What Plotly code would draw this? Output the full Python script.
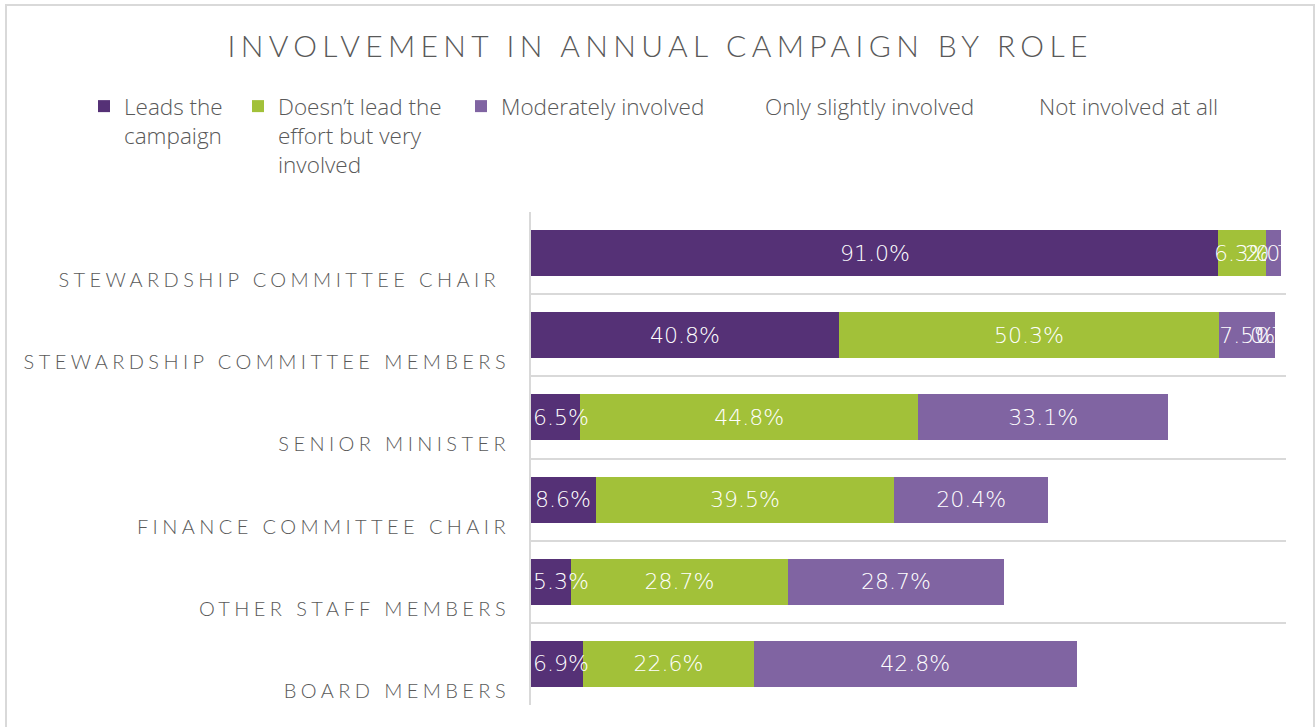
import plotly.graph_objects as go

# Roles, listed top to bottom
roles = [
    "STEWARDSHIP COMMITTEE CHAIR\u00a0",
    "STEWARDSHIP COMMITTEE MEMBERS",
    "SENIOR MINISTER",
    "FINANCE COMMITTEE CHAIR",
    "OTHER STAFF MEMBERS",
    "BOARD MEMBERS",
]

# Share of respondents (%) at each level of involvement
leads = [91.0, 40.8, 6.5, 8.6, 5.3, 6.9]
very_involved = [6.3, 50.3, 44.8, 39.5, 28.7, 22.6]
moderately = [2.0, 7.5, 33.1, 20.4, 28.7, 42.8]
slightly = [0.7, 0.7, 11.0, 19.7, 24.1, 20.1]
not_at_all = [0.0, 0.7, 4.6, 11.8, 13.2, 7.6]

series = [
    ("Leads the<br>campaign", leads, "#553176"),
    ("Doesn\u2019t lead the<br>effort but very<br>involved", very_involved, "#a2c139"),
    ("Moderately involved", moderately, "#8064a2"),
    ("Only slightly involved", slightly, "#ffffff"),
    ("Not involved at all", not_at_all, "#ffffff"),
]

# Left edge (px) of each legend entry's text
legend_text_x = [122, 276, 499, 763, 1037]

# Plot area in pixels
L, R, T, B = 531, 1286, 212, 705
PW, PH = R - L, B - T

label_font = dict(family="DejaVu Sans, sans-serif", size=22, color="#ffffff", weight=200)

fig = go.Figure()
legend_layouts = {}
for i, (name, vals, color) in enumerate(series):
    lg = "legend" if i == 0 else f"legend{i + 1}"
    first = i == 0
    fig.add_trace(go.Bar(
        y=roles,
        x=vals,
        name=name,
        legend=lg,
        showlegend=True,
        orientation="h",
        marker=dict(color=color, line=dict(width=0)),
        # the first segment is labelled with annotations so short bars keep their label in view
        text=None if first else [f"{v:.1f}%" for v in vals],
        textposition="inside",
        insidetextanchor="middle",
        textangle=0,
        textfont=label_font,
        cliponaxis=False,
        hoverinfo="skip",
    ))
    legend_layouts[lg] = dict(
        visible=True,
        orientation="h",
        x=(legend_text_x[i] - 38 - L) / PW, xref="paper", xanchor="left",
        y=(B - 85) / PH, yref="paper", yanchor="top",
        valign="top",
        font=dict(family="Open Sans, sans-serif", size=22.5, color="#595959", weight=300),
        itemclick=False,
        bgcolor="rgba(0,0,0,0)",
    )

# Labels for the first segment: centred, but never closer than 4 points to the axis
lead_labels = [
    dict(x=max(v / 2, 4.0), y=role, xref="x", yref="y", text=f"{v:.1f}%",
         showarrow=False, font=label_font, xanchor="center", yanchor="middle")
    for v, role in zip(leads, roles)
]

fig.update_layout(
    width=1315,
    height=727,
    showlegend=True,
    barmode="stack",
    bargap=0.44,
    paper_bgcolor="#ffffff",
    plot_bgcolor="#ffffff",
    margin=dict(l=L, r=1315 - R, t=T, b=727 - B, autoexpand=False),
    uniformtext=dict(minsize=22, mode="show"),
    title=dict(
        text="INVOLVEMENT IN ANNUAL CAMPAIGN BY ROLE",
        x=0.502, xref="container", xanchor="center",
        y=1 - 46 / 727, yref="container", yanchor="middle",
        font=dict(family="Lato, sans-serif", size=30, color="#595959", weight=300),
    ),
    xaxis=dict(
        range=[0, 100],
        showgrid=False,
        zeroline=False,
        showticklabels=False,
        showline=False,
        fixedrange=True,
    ),
    yaxis=dict(
        type="category",
        categoryorder="array",
        categoryarray=roles[::-1],
        tickson="boundaries",
        showgrid=True,
        gridcolor="#d9d9d9",
        gridwidth=2,
        showline=True,
        linecolor="#d9d9d9",
        linewidth=2,
        ticks="",
        ticklabelshift=27,
        ticklabelstandoff=15,
        tickfont=dict(family="Lato, sans-serif", size=20, color="#595959", weight=300),
        fixedrange=True,
    ),
    annotations=lead_labels,
    shapes=[dict(
        type="rect", xref="paper", yref="paper",
        x0=(6 - L) / PW, x1=(1314 - L) / PW,
        y0=(B - 740) / PH, y1=(B - 5) / PH,
        line=dict(color="#d9d9d9", width=2),
        fillcolor="rgba(0,0,0,0)",
        layer="below",
    )],
    **legend_layouts,
)

# Wide letter spacing for the title and role labels
spacing_js = (
    "var s=document.createElement('style');"
    "s.textContent='.gtitle{letter-spacing:5.35px} .ytick text{letter-spacing:4.4px}';"
    "document.head.appendChild(s);"
)

fig.write_html("out.html", post_script=spacing_js, config={"displayModeBar": False})
